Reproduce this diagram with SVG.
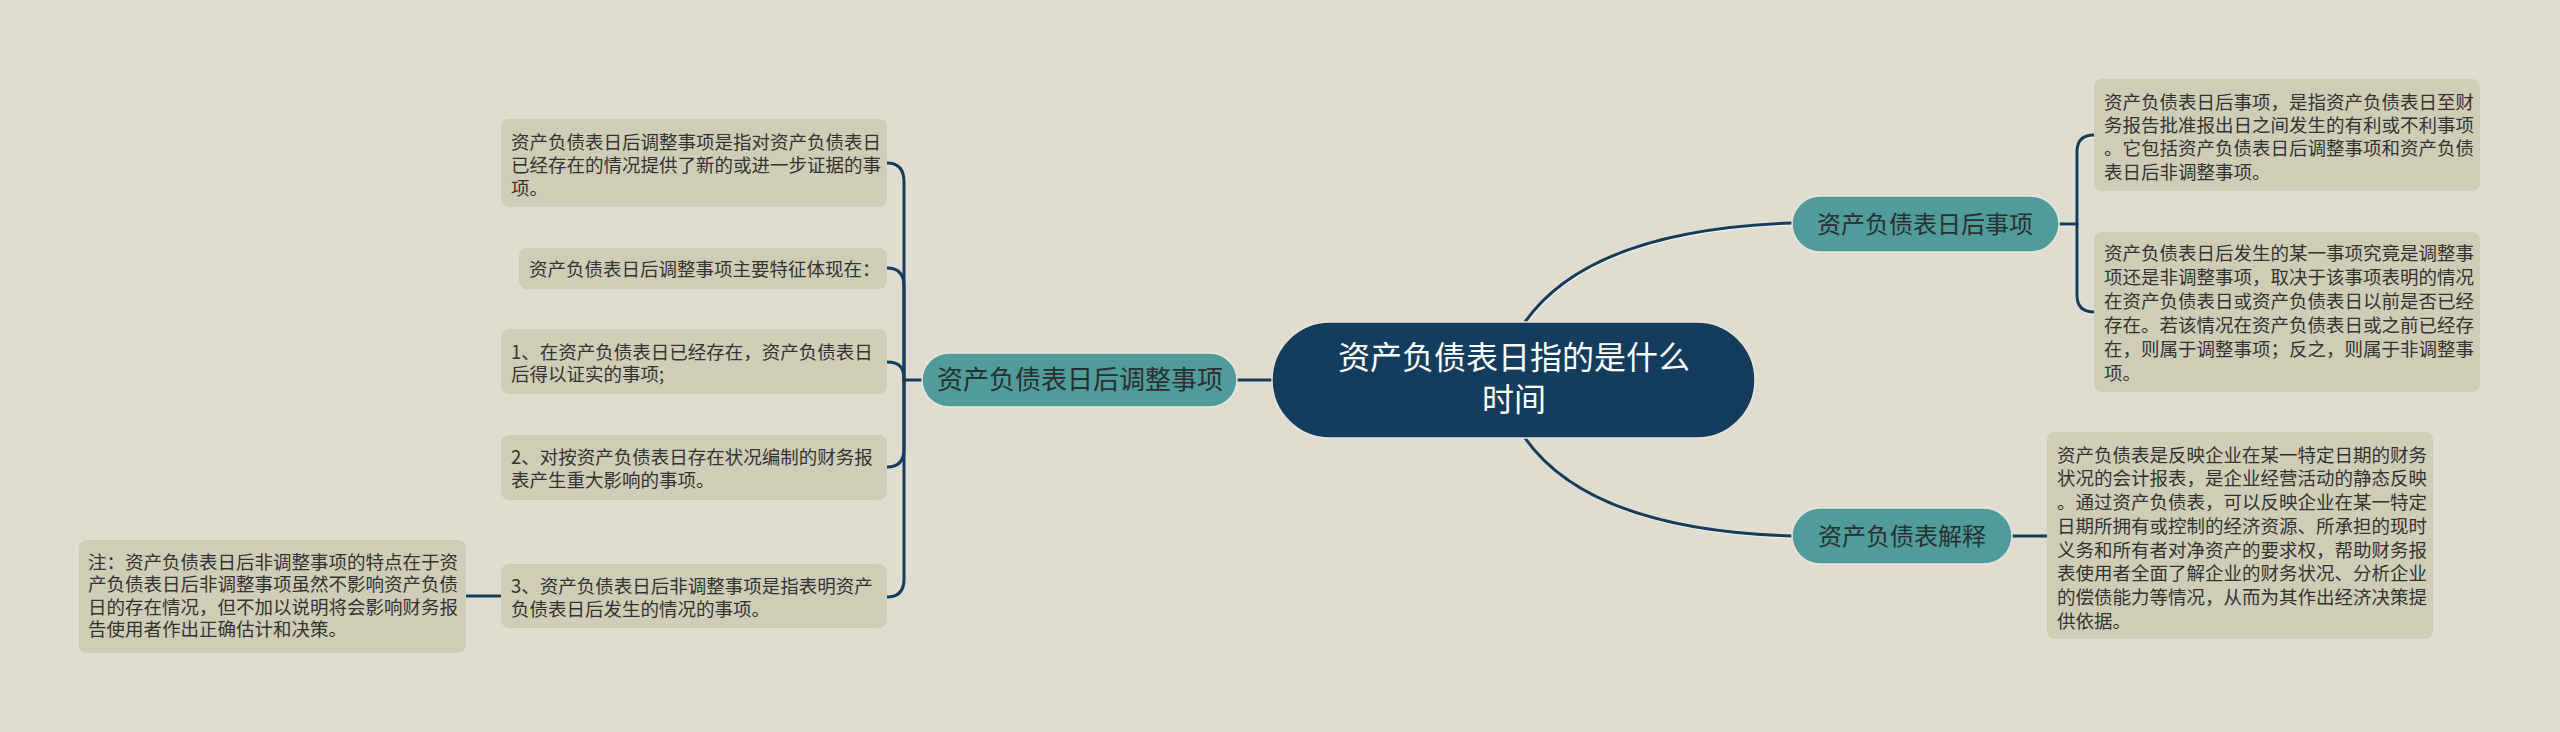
<svg xmlns="http://www.w3.org/2000/svg" width="2560" height="732" viewBox="0 0 2560 732">
<style>
.bg{fill:#e0ddd0}
.leaf{fill:#cfcdb6}
.lt{font-family:"Noto Sans CJK SC","Noto Sans",sans-serif;font-size:18.5px;fill:#333333}
.branch{fill:#4f9c9a;stroke:#e8e6da;stroke-width:1.5}
.bt{font-family:"Noto Sans CJK SC","Noto Sans",sans-serif;fill:#2a2f30;text-anchor:middle}
.root{fill:#143c5c;stroke:#e8e6da;stroke-width:1.5}
.rt{font-family:"Noto Sans CJK SC","Noto Sans",sans-serif;font-size:32px;fill:#ffffff;text-anchor:middle}
.c{fill:none;stroke:#143c5c;stroke-width:3;stroke-linecap:round}
.h{fill:none;stroke:#f4f2ea;stroke-width:2;stroke-linecap:round}
</style>
<rect class="bg" x="0" y="0" width="2560" height="732"/>
<g id="connectors">
<g transform="translate(1,1.5)">
<path class="h" d="M1525 322 Q1590 230 1792 223"/>
<path class="h" d="M1525 438 Q1590 530 1792 536"/>
<path class="h" d="M2058 224 H2077 M2077 224 V152 Q2077 135 2094 135 M2077 224 V295 Q2077 312 2094 312"/>
</g>
<path class="c" d="M1236 380 H1272"/>
<path class="c" d="M1525 322 Q1590 230 1792 223"/>
<path class="c" d="M1525 438 Q1590 530 1792 536"/>
<path class="c" d="M922 380 H904"/>
<path class="c" d="M904 380 V182 Q904 163 887 163"/>
<path class="c" d="M904 380 V286 Q904 268 887 268"/>
<path class="c" d="M904 380 C904 368 900 362 887 362"/>
<path class="c" d="M904 380 V449 Q904 467 887 467"/>
<path class="c" d="M904 380 V579 Q904 597 887 597"/>
<path class="c" d="M501 596 H466"/>
<path class="c" d="M2058 224 H2077"/>
<path class="c" d="M2077 224 V152 Q2077 135 2094 135"/>
<path class="c" d="M2077 224 V295 Q2077 312 2094 312"/>
<path class="c" d="M2012 536 H2047"/>
</g>
<g id="root">
<rect class="root" x="1272" y="322" width="483" height="116" rx="58"/>
<text class="rt" x="1514" y="369">资产负债表日指的是什么</text>
<text class="rt" x="1514" y="411">时间</text>
</g>
<g id="b-left">
<rect class="branch" x="922" y="353" width="315" height="54" rx="27"/>
<text class="bt" x="1080" y="389" font-size="26">资产负债表日后调整事项</text>
</g>
<g id="b-r1">
<rect class="branch" x="1792" y="196" width="267" height="56" rx="28"/>
<text class="bt" x="1925" y="232.5" font-size="24">资产负债表日后事项</text>
</g>
<g id="b-r2">
<rect class="branch" x="1792" y="508" width="220" height="56" rx="28"/>
<text class="bt" x="1902" y="544.5" font-size="24">资产负债表解释</text>
</g>
<g id="l1">
<rect class="leaf" x="501" y="119" width="386" height="88" rx="8"/>
<text class="lt" x="511" y="148.5">资产负债表日后调整事项是指对资产负债表日</text>
<text class="lt" x="511" y="171.5">已经存在的情况提供了新的或进一步证据的事</text>
<text class="lt" x="511" y="194.5">项。</text>
</g>
<g id="l2">
<rect class="leaf" x="519" y="248" width="368" height="41" rx="8"/>
<text class="lt" x="529" y="276">资产负债表日后调整事项主要特征体现在：</text>
</g>
<g id="l3">
<rect class="leaf" x="501" y="329" width="386" height="65" rx="8"/>
<text class="lt" x="511" y="358.5">1、在资产负债表日已经存在，资产负债表日</text>
<text class="lt" x="511" y="381">后得以证实的事项;</text>
</g>
<g id="l4">
<rect class="leaf" x="501" y="435" width="386" height="65" rx="8"/>
<text class="lt" x="511" y="463.5">2、对按资产负债表日存在状况编制的财务报</text>
<text class="lt" x="511" y="486.5">表产生重大影响的事项。</text>
</g>
<g id="l5">
<rect class="leaf" x="501" y="564" width="386" height="64" rx="8"/>
<text class="lt" x="511" y="592.5">3、资产负债表日后非调整事项是指表明资产</text>
<text class="lt" x="511" y="615.5">负债表日后发生的情况的事项。</text>
</g>
<g id="note">
<rect class="leaf" x="79" y="540" width="387" height="113" rx="8"/>
<text class="lt" x="88" y="568.5">注：资产负债表日后非调整事项的特点在于资</text>
<text class="lt" x="88" y="591">产负债表日后非调整事项虽然不影响资产负债</text>
<text class="lt" x="88" y="613.5">日的存在情况，但不加以说明将会影响财务报</text>
<text class="lt" x="88" y="636">告使用者作出正确估计和决策。</text>
</g>
<g id="r1">
<rect class="leaf" x="2094" y="79" width="386" height="112" rx="8"/>
<text class="lt" x="2104" y="108.5">资产负债表日后事项，是指资产负债表日至财</text>
<text class="lt" x="2104" y="131.5">务报告批准报出日之间发生的有利或不利事项</text>
<text class="lt" x="2104" y="155">。它包括资产负债表日后调整事项和资产负债</text>
<text class="lt" x="2104" y="178.5">表日后非调整事项。</text>
</g>
<g id="r2">
<rect class="leaf" x="2094" y="232" width="386" height="160" rx="8"/>
<text class="lt" x="2104" y="259.5">资产负债表日后发生的某一事项究竟是调整事</text>
<text class="lt" x="2104" y="283.5">项还是非调整事项，取决于该事项表明的情况</text>
<text class="lt" x="2104" y="307.5">在资产负债表日或资产负债表日以前是否已经</text>
<text class="lt" x="2104" y="331.5">存在。若该情况在资产负债表日或之前已经存</text>
<text class="lt" x="2104" y="355.5">在，则属于调整事项；反之，则属于非调整事</text>
<text class="lt" x="2104" y="379.5">项。</text>
</g>
<g id="r3">
<rect class="leaf" x="2047" y="432" width="386" height="207" rx="8"/>
<text class="lt" x="2057" y="461.5">资产负债表是反映企业在某一特定日期的财务</text>
<text class="lt" x="2057" y="485">状况的会计报表，是企业经营活动的静态反映</text>
<text class="lt" x="2057" y="509">。通过资产负债表，可以反映企业在某一特定</text>
<text class="lt" x="2057" y="532.5">日期所拥有或控制的经济资源、所承担的现时</text>
<text class="lt" x="2057" y="556.5">义务和所有者对净资产的要求权，帮助财务报</text>
<text class="lt" x="2057" y="580">表使用者全面了解企业的财务状况、分析企业</text>
<text class="lt" x="2057" y="604">的偿债能力等情况，从而为其作出经济决策提</text>
<text class="lt" x="2057" y="628">供依据。</text>
</g>
</svg>
